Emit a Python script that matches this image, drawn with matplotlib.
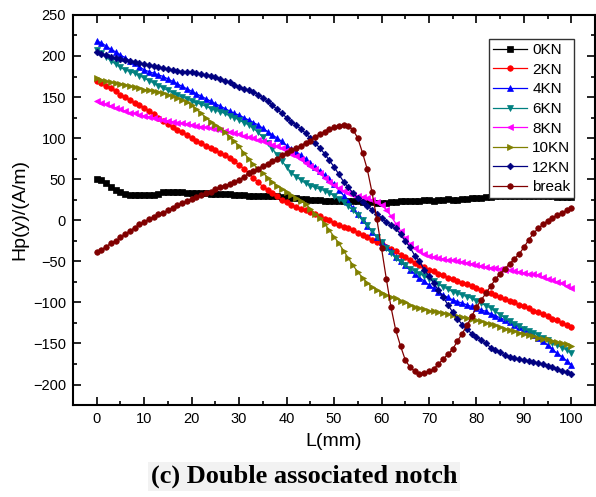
import matplotlib
matplotlib.use("Agg")
import matplotlib.pyplot as plt
import numpy as np

plt.rcParams['font.family'] = ['Liberation Sans', 'DejaVu Sans']

# position along the sample (mm), one reading every mm
L = np.arange(0, 101)

kn0 = [50, 49, 45, 41, 37, 34, 32, 31, 31, 31, 31,
       31, 31, 32, 34, 35, 35, 34, 34, 33, 33,
       33, 33, 33, 32, 32, 32, 32, 32, 31, 31,
       31, 30, 30, 30, 30, 29, 29, 29, 28, 28,
       27, 27, 26, 26, 25, 25, 25, 24, 24, 24,
       24, 23, 23, 23, 23, 22, 22, 22, 21, 21,
       21, 22, 22, 23, 23, 23, 24, 24, 25, 25,
       24, 25, 25, 26, 25, 25, 26, 26, 27, 27,
       27, 28, 28, 29, 29, 30, 30, 30, 30, 30,
       30, 29, 29, 29, 29, 29, 28, 28, 28, 28]

kn2 = [170, 167, 164, 161, 157, 153, 150, 146, 143, 140, 137,
       133, 129, 125, 121, 117, 113, 110, 107, 104, 100,
       97, 94, 91, 88, 85, 82, 79, 76, 72, 67,
       63, 58, 52, 46, 41, 37, 33, 29, 25, 22,
       19, 16, 14, 12, 10, 8, 5, 2, 0, -3,
       -6, -8, -10, -12, -15, -18, -21, -24, -27, -29,
       -32, -35, -38, -42, -45, -48, -52, -55, -57, -60,
       -62, -65, -67, -70, -72, -74, -76, -78, -80, -83,
       -85, -87, -89, -91, -94, -96, -98, -100, -103, -105,
       -107, -110, -112, -114, -117, -120, -122, -125, -128, -130]

kn4 = [218, 216, 212, 208, 205, 201, 198, 194, 191, 187, 183,
       181, 179, 177, 175, 172, 169, 166, 163, 160, 157,
       154, 151, 148, 145, 142, 139, 136, 133, 130, 128,
       125, 122, 119, 116, 112, 108, 104, 100, 96, 91,
       87, 83, 79, 75, 70, 65, 60, 55, 50, 44,
       37, 30, 22, 15, 7, 0, -7, -14, -20, -26,
       -32, -38, -45, -50, -55, -61, -65, -70, -74, -79,
       -83, -87, -91, -94, -97, -99, -101, -103, -105, -107,
       -109, -111, -114, -116, -119, -121, -124, -127, -130, -133,
       -136, -140, -143, -147, -152, -157, -162, -166, -171, -176]

kn6 = [207, 204, 199, 194, 190, 186, 183, 181, 179, 176, 173,
       170, 167, 164, 161, 158, 155, 152, 150, 148, 145,
       143, 141, 139, 136, 134, 132, 130, 127, 125, 122,
       119, 116, 112, 107, 101, 94, 87, 80, 72, 65,
       58, 53, 49, 45, 42, 40, 38, 36, 33, 30,
       26, 22, 17, 12, 6, 0, -6, -13, -20, -27,
       -34, -40, -46, -51, -55, -59, -62, -65, -68, -71,
       -74, -78, -81, -84, -87, -89, -91, -93, -95, -98,
       -101, -104, -107, -111, -115, -119, -123, -126, -129, -132,
       -135, -137, -140, -143, -146, -149, -152, -155, -158, -162]

kn8 = [145, 143, 141, 139, 137, 135, 133, 131, 130, 128, 127,
       126, 124, 123, 122, 121, 120, 119, 118, 117, 116,
       115, 114, 113, 112, 111, 110, 109, 108, 106, 105,
       103, 101, 100, 98, 96, 94, 92, 90, 88, 85,
       81, 78, 74, 70, 66, 62, 57, 52, 47, 43,
       39, 36, 33, 31, 30, 28, 27, 25, 22, 19,
       13, 5, -4, -13, -22, -29, -34, -38, -41, -43,
       -45, -46, -47, -48, -49, -50, -51, -52, -53, -55,
       -56, -57, -58, -58, -59, -60, -61, -62, -63, -64,
       -65, -66, -67, -69, -71, -73, -75, -77, -80, -83]

kn10 = [173, 171, 169, 168, 167, 166, 165, 163, 162, 161, 159,
        158, 157, 156, 155, 153, 151, 149, 147, 144, 140,
        135, 130, 125, 120, 116, 112, 107, 101, 96, 90,
        82, 75, 68, 63, 58, 52, 47, 42, 38, 35,
        31, 27, 24, 20, 14, 8, 3, -4, -12, -20,
        -28, -37, -46, -55, -63, -70, -76, -81, -85, -88,
        -91, -93, -95, -98, -100, -103, -106, -107, -108, -110,
        -111, -112, -113, -114, -115, -116, -118, -119, -120, -122,
        -123, -125, -126, -128, -130, -132, -134, -135, -137, -138,
        -140, -141, -143, -144, -145, -147, -148, -150, -151, -153]

kn12 = [205, 203, 201, 199, 197, 196, 195, 194, 193, 191, 190,
        189, 188, 187, 185, 184, 183, 182, 181, 181, 180,
        179, 178, 177, 176, 174, 172, 170, 168, 165, 162,
        160, 158, 156, 153, 149, 145, 140, 135, 130, 125,
        120, 116, 111, 106, 100, 94, 88, 81, 73, 65,
        56, 47, 40, 33, 27, 22, 17, 13, 8, 3,
        -2, -6, -10, -17, -25, -33, -43, -50, -60, -68,
        -77, -85, -94, -103, -112, -120, -127, -133, -138, -142,
        -146, -150, -155, -158, -161, -164, -166, -168, -169, -170,
        -171, -172, -174, -175, -177, -179, -181, -183, -185, -187]

brk = [-39, -36, -32, -28, -25, -21, -17, -13, -9, -5, -2,
       1, 4, 7, 9, 12, 15, 18, 21, 23, 26,
       28, 31, 33, 35, 38, 40, 42, 44, 46, 49,
       53, 57, 60, 63, 66, 69, 72, 75, 79, 82,
       85, 88, 91, 94, 97, 101, 105, 108, 111, 113,
       115, 116, 115, 110, 100, 82, 62, 34, 2, -34,
       -71, -106, -134, -153, -170, -179, -184, -187, -186, -184,
       -181, -175, -169, -163, -157, -147, -138, -128, -117, -106,
       -97, -89, -80, -72, -65, -59, -53, -47, -41, -33,
       -24, -16, -10, -5, -1, 3, 6, 9, 12, 15]

series = [kn0, kn2, kn4, kn6, kn8, kn10, kn12, brk]
labels = ['0KN', '2KN', '4KN', '6KN', '8KN', '10KN', '12KN', 'break']
colors = ['black', 'red', 'blue', '#008080', 'magenta', '#808000', '#000080', '#800000']
markers = ['s', 'o', '^', 'v', '<', '>', 'D', 'o']

fig = plt.figure(figsize=(5.96, 4.97), dpi=100)
ax = fig.add_axes([0.1225, 0.185, 0.876, 0.785])

for y, lab, c, m in zip(series, labels, colors, markers):
    ms = 3.4 if m == 'D' else 4.0
    ax.plot(L, y, marker=m, color=c, markersize=ms, linewidth=0.9,
            markeredgewidth=0.5, label=lab)

ax.set_xlim(-5, 105)
ax.set_ylim(-225, 250)
ax.set_xticks(np.arange(0, 101, 10))
ax.set_xticks(np.arange(-5, 106, 5), minor=True)
ax.set_yticks(np.arange(-200, 251, 50))
ax.set_yticks(np.arange(-225, 251, 25), minor=True)
ax.tick_params(which='both', direction='in', top=True, right=True,
               labeltop=False, labelright=False, labelsize=10.5, width=1.2)
ax.tick_params(which='major', length=6, pad=5)
ax.tick_params(which='minor', length=3)
for s in ax.spines.values():
    s.set_linewidth(1.5)

ax.set_xlabel('L(mm)', fontsize=14, labelpad=5)
ax.set_ylabel('Hp(y)/(A/m)', fontsize=14, labelpad=3)

leg = ax.legend(loc='upper right', bbox_to_anchor=(0.960, 0.938),
                borderaxespad=0, fancybox=False, fontsize=11,
                edgecolor='#333333', framealpha=1, numpoints=1,
                handlelength=2.2, labelspacing=0.37, borderpad=0.25,
                handletextpad=0.35)
leg.get_frame().set_linewidth(1.0)

fig.text(0.51, 0.042, '(c) Double associated notch', ha='center', va='center',
         fontsize=19, fontweight='bold', family='Liberation Serif',
         bbox=dict(facecolor='#f2f2f2', edgecolor='none', pad=2))

fig.savefig('out.png', dpi=100)
